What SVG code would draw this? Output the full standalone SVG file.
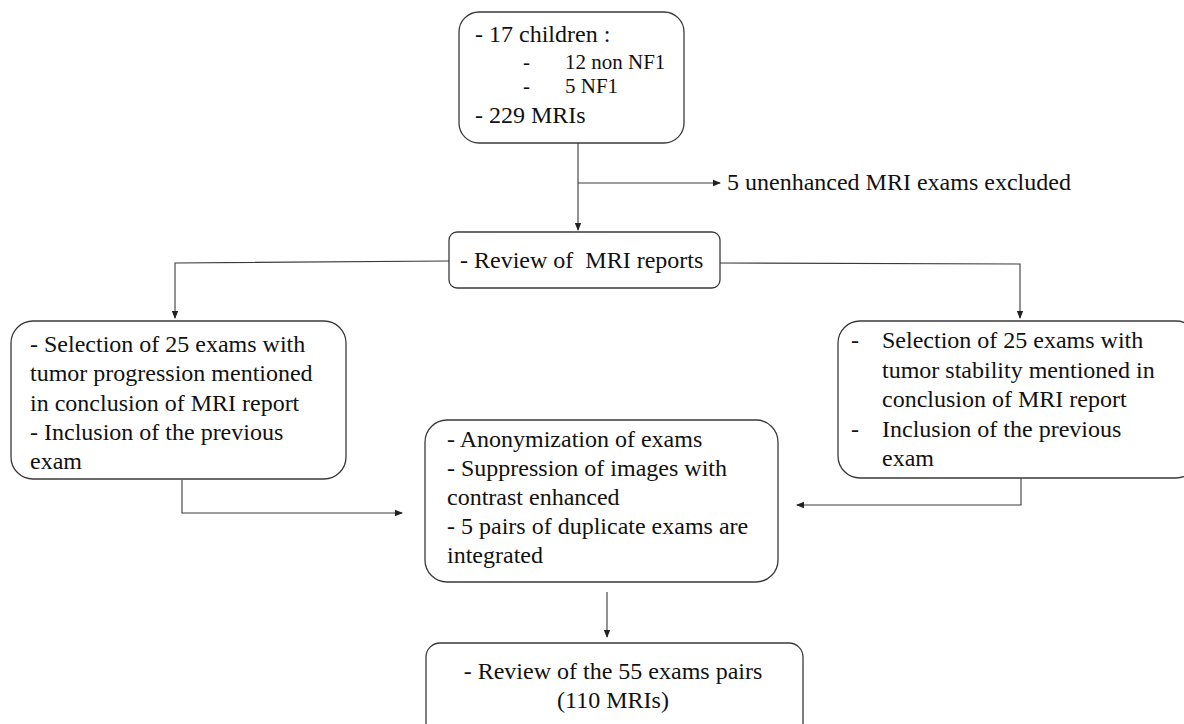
<svg xmlns="http://www.w3.org/2000/svg" width="1184" height="724" viewBox="0 0 1184 724">
<style>
.box{fill:#fff;stroke:#3a3a3a;stroke-width:1.3}
.c{fill:none;stroke:#3a3a3a;stroke-width:1.1}
</style>
<defs>
<marker id="ah" markerWidth="8" markerHeight="8" refX="7" refY="4" orient="auto" markerUnits="userSpaceOnUse">
<path d="M0,0.8 L8,4 L0,7.2 Z" fill="#222"/>
</marker>
</defs>
<rect width="1184" height="724" fill="#fff"/>
<g id="connectors">
<path class="c" d="M578,143 L578,230" marker-end="url(#ah)"/>
<path class="c" d="M578,183 L720,183" marker-end="url(#ah)"/>
<path class="c" d="M449,261 L175,263 L175,318" marker-end="url(#ah)"/>
<path class="c" d="M720,263 L1020,264 L1020,318" marker-end="url(#ah)"/>
<path class="c" d="M182,480 L182,513 L402,513" marker-end="url(#ah)"/>
<path class="c" d="M1021,478 L1021,505 L797,505" marker-end="url(#ah)"/>
<path class="c" d="M607,592 L607,637" marker-end="url(#ah)"/>
</g>
<g font-family="Liberation Serif, serif" font-size="24" fill="#111">
<g id="n1">
<rect class="box" x="459" y="12" width="225" height="131" rx="20"/>
<text x="475" y="42">- 17 children :</text>
<text x="523" y="69" font-size="21">-</text>
<text x="565" y="69" font-size="21">12 non NF1</text>
<text x="523" y="93" font-size="21">-</text>
<text x="565" y="93" font-size="21">5 NF1</text>
<text x="475" y="123">- 229 MRIs</text>
</g>
<g id="n_excl">
<text x="727" y="190">5 unenhanced MRI exams excluded</text>
</g>
<g id="n2">
<rect class="box" x="449" y="232" width="271" height="56" rx="8"/>
<text x="460" y="268" xml:space="preserve">- Review of  MRI reports</text>
</g>
<g id="n3">
<rect class="box" x="11" y="321" width="335" height="158" rx="22"/>
<text x="30" y="352">- Selection of 25 exams with</text>
<text x="30" y="381">tumor progression mentioned</text>
<text x="30" y="411">in conclusion of MRI report</text>
<text x="30" y="440">- Inclusion of the previous</text>
<text x="30" y="469">exam</text>
</g>
<g id="n4">
<rect class="box" x="838" y="321" width="360" height="157" rx="22"/>
<text x="851" y="348">-</text>
<text x="882" y="348">Selection of 25 exams with</text>
<text x="882" y="378">tumor stability mentioned in</text>
<text x="882" y="407">conclusion of MRI report</text>
<text x="851" y="437">-</text>
<text x="882" y="437">Inclusion of the previous</text>
<text x="882" y="466">exam</text>
</g>
<g id="n5">
<rect class="box" x="425" y="420" width="353" height="162" rx="22"/>
<text x="447" y="447">- Anonymization of exams</text>
<text x="447" y="476">- Suppression of images with</text>
<text x="447" y="505">contrast enhanced</text>
<text x="447" y="534">- 5 pairs of duplicate exams are</text>
<text x="447" y="563">integrated</text>
</g>
<g id="n6">
<rect class="box" x="426" y="643" width="377" height="100" rx="14"/>
<text x="613" y="679" text-anchor="middle">- Review of the 55 exams pairs</text>
<text x="613" y="708" text-anchor="middle">(110 MRIs)</text>
</g>
</g>
</svg>
